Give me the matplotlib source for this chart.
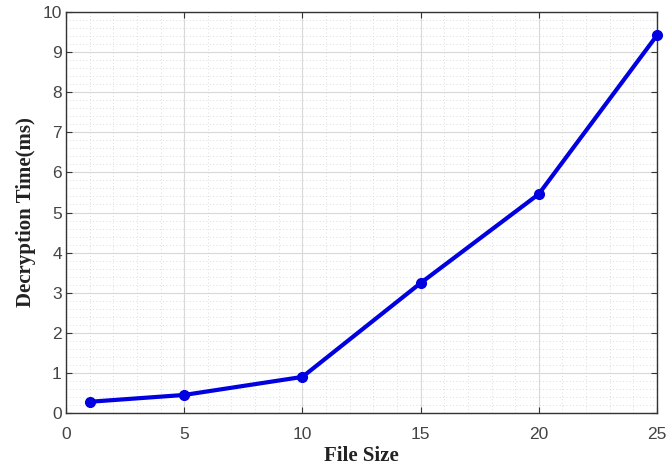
import matplotlib
matplotlib.use("Agg")
import numpy as np
from matplotlib import pyplot as plt
from matplotlib.ticker import MultipleLocator

file_size = [1, 5, 10, 15, 20, 25]
decrypt_ms = [0.28, 0.45, 0.90, 3.24, 5.46, 9.42]

fig = plt.figure(figsize=(6.67, 4.65), dpi=100)
ax = fig.add_axes([66 / 667, 1 - 413 / 465, 591 / 667, 401 / 465])

ax.plot(file_size, decrypt_ms, color='#0000e0', linewidth=3, marker='o', markersize=7,
        zorder=3, clip_on=False)

ax.set_xlim(0, 25)
ax.set_ylim(0, 10)
ax.xaxis.set_major_locator(MultipleLocator(5))
ax.xaxis.set_minor_locator(MultipleLocator(1))
ax.yaxis.set_major_locator(MultipleLocator(1))
ax.yaxis.set_minor_locator(MultipleLocator(0.2))

ax.grid(which='major', color='#d8d8d8', linewidth=0.8)
ax.grid(which='minor', color='#d0d0d0', linewidth=0.6, linestyle=(0, (1, 3)))
ax.set_axisbelow(True)

for s in ax.spines.values():
    s.set_color('#333333')
    s.set_linewidth(1.0)
ax.tick_params(which='major', direction='in', length=4, labelsize=12.5, colors='#333333',
               labelcolor='#444444', top=True, right=True)
ax.tick_params(axis='x', which='major', pad=10)
ax.tick_params(axis='y', which='major', pad=3)
ax.tick_params(which='minor', length=0)
for lbl in ax.get_xticklabels() + ax.get_yticklabels():
    lbl.set_family('Liberation Sans')

ax.set_xlabel('File Size', fontfamily='Liberation Serif', fontweight='bold', fontsize=15,
              labelpad=3, color='#222222')
ax.set_ylabel('Decryption Time(ms)', fontfamily='Liberation Serif', fontweight='bold',
              fontsize=15, labelpad=5, color='#222222')

fig.savefig('out.png', dpi=100)
